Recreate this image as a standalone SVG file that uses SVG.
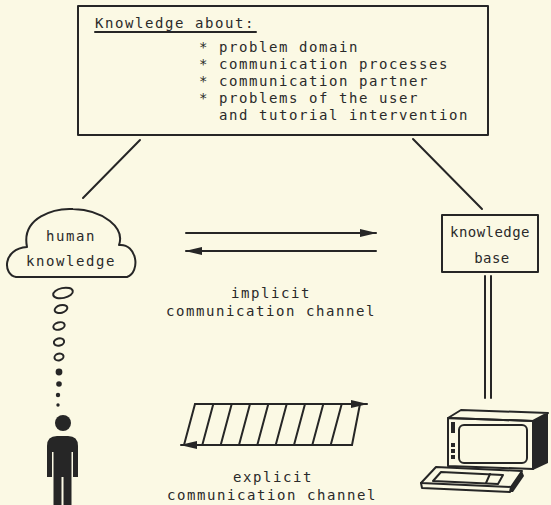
<svg xmlns="http://www.w3.org/2000/svg" width="551" height="505" viewBox="0 0 551 505">
  <style>
    .bg { fill: #fbf9e4; }
    .ink { stroke: #262626; fill: none; stroke-width: 2; stroke-linecap: round; stroke-linejoin: round; }
    .solid { fill: #262626; stroke: none; }
    .txt { font-family: "DejaVu Sans Mono", "Liberation Mono", monospace; font-size: 14px; letter-spacing: 1.57px; fill: #2a2a2a; }
    .mid { text-anchor: middle; }
  </style>
  <defs>
    <marker id="head" viewBox="0 0 17 9" refX="16" refY="4.5" markerWidth="17" markerHeight="9" markerUnits="userSpaceOnUse" orient="auto">
      <path d="M0,0.5 L17,4.5 L0,8.5 Z" fill="#262626"/>
    </marker>
  </defs>

  <rect class="bg" x="0" y="0" width="551" height="505"/>

  <!-- knowledge box at the top -->
  <g id="knowledge-about">
    <rect class="ink" x="78" y="6" width="410" height="129"/>
    <text class="txt" x="95" y="28">Knowledge about:</text>
    <line class="ink" x1="95" y1="32" x2="256" y2="32" stroke-width="1.3"/>
    <text class="txt" x="199" y="52">* problem domain</text>
    <text class="txt" x="199" y="69">* communication processes</text>
    <text class="txt" x="199" y="86">* communication partner</text>
    <text class="txt" x="199" y="103">* problems of the user</text>
    <text class="txt" x="219" y="120">and tutorial intervention</text>
  </g>

  <!-- cloud holding the human knowledge -->
  <g id="human-knowledge">
    <path class="ink" d="M16,277 C3,275 2,249 27,247 C21,217 55,208 73,209 C104,210 125,228 119,245 C137,243 141,272 127,277 Z"/>
    <text class="txt mid" x="71" y="241">human</text>
    <text class="txt mid" x="71" y="266">knowledge</text>
  </g>

  <!-- thought bubbles rising from the person -->
  <g id="thought-bubbles">
    <ellipse class="ink" cx="63" cy="293" rx="10" ry="5" transform="rotate(-12 63 293)"/>
    <ellipse class="ink" cx="61" cy="309" rx="6.5" ry="3.8" transform="rotate(-15 61 309)"/>
    <ellipse class="ink" cx="59" cy="326" rx="5.8" ry="3.6" transform="rotate(-15 59 326)"/>
    <ellipse class="ink" cx="59" cy="342" rx="5.2" ry="3.6" transform="rotate(-15 59 342)"/>
    <ellipse class="ink" cx="59" cy="357" rx="4.6" ry="3.3" transform="rotate(-15 59 357)"/>
    <circle class="solid" cx="59" cy="372" r="3.4"/>
    <circle class="solid" cx="59" cy="384" r="2.8"/>
    <circle class="solid" cx="58" cy="395" r="2.2"/>
    <circle class="solid" cx="58" cy="405" r="1.7"/>
  </g>

  <!-- the user -->
  <g id="person">
    <circle class="solid" cx="63" cy="423" r="8"/>
    <path class="solid" d="M47,477 L47,446 Q47,436 57,436 L68,436 Q78,436 78,446 L78,477 L73,477 L73,452 L71.5,452 L71.5,505 L63.5,505 L63.5,477 L61.5,477 L61.5,505 L53.5,505 L53.5,452 L52,452 L52,477 Z"/>
  </g>

  <!-- knowledge base box -->
  <g id="knowledge-base">
    <rect class="ink" x="442" y="215" width="96" height="57"/>
    <text class="txt" x="450" y="237" style="letter-spacing:0.45px">knowledge</text>
    <text class="txt mid" x="492" y="263" style="letter-spacing:0.45px">base</text>
  </g>

  <!-- the computer -->
  <g id="computer">
    <!-- monitor housing -->
    <path class="solid" d="M533,421 L548,413 L548,463 L533,470 Z"/>
    <path class="ink" d="M448,418 L461,410 L548,413 L533,421 Z"/>
    <path class="ink" d="M448,418 L533,421 L533,469 L448,466 Z"/>
    <rect class="ink" x="459" y="425" width="68" height="38" rx="5"/>
    <rect class="solid" x="451" y="422" width="4" height="11"/>
    <rect class="solid" x="451" y="443" width="4" height="4"/>
    <rect class="solid" x="451" y="449" width="4" height="4"/>
    <rect class="solid" x="451" y="455" width="4" height="4"/>
    <!-- keyboard -->
    <path class="ink" d="M436,467 L522,471 L511,487 L421,483 Z"/>
    <path class="ink" d="M421,483 L422,488 L510,492 L511,487"/>
    <path class="solid" d="M511,487 L522,471 L524,476 L513,492 L510,492 Z"/>
    <path class="ink" d="M441,472 L503,475 L498,484 L433,481 Z" stroke-width="1.6"/>
    <line class="ink" x1="490" y1="474" x2="486" y2="483" stroke-width="1.6"/>
  </g>

  <!-- connectors -->
  <g id="connectors">
    <line class="ink" x1="140" y1="140" x2="83" y2="198"/>
    <line class="ink" x1="413" y1="139" x2="482" y2="209"/>
    <line class="ink" x1="485" y1="276" x2="485" y2="398"/>
    <line class="ink" x1="491" y1="276" x2="491" y2="398"/>

    <!-- implicit channel -->
    <line class="ink" x1="186" y1="233" x2="376" y2="233" marker-end="url(#head)"/>
    <line class="ink" x1="376" y1="251" x2="186" y2="251" marker-end="url(#head)"/>

    <!-- explicit channel -->
    <line class="ink" x1="195" y1="404" x2="367" y2="404" marker-end="url(#head)"/>
    <line class="ink" x1="352" y1="445" x2="181" y2="445" marker-end="url(#head)"/>
    <path class="ink" d="M195,404 L184,445 M213.3,404 L202.3,445 M231.7,404 L220.7,445 M250,404 L239,445 M268.3,404 L257.3,445 M286.7,404 L275.7,445 M305,404 L294,445 M323.3,404 L312.3,445 M341.7,404 L330.7,445 M360,404 L352,445"/>
  </g>

  <g id="labels">
    <text class="txt mid" x="271" y="298">implicit</text>
    <text class="txt mid" x="271" y="316">communication channel</text>
    <text class="txt mid" x="273" y="482">explicit</text>
    <text class="txt mid" x="272" y="500">communication channel</text>
  </g>
</svg>
